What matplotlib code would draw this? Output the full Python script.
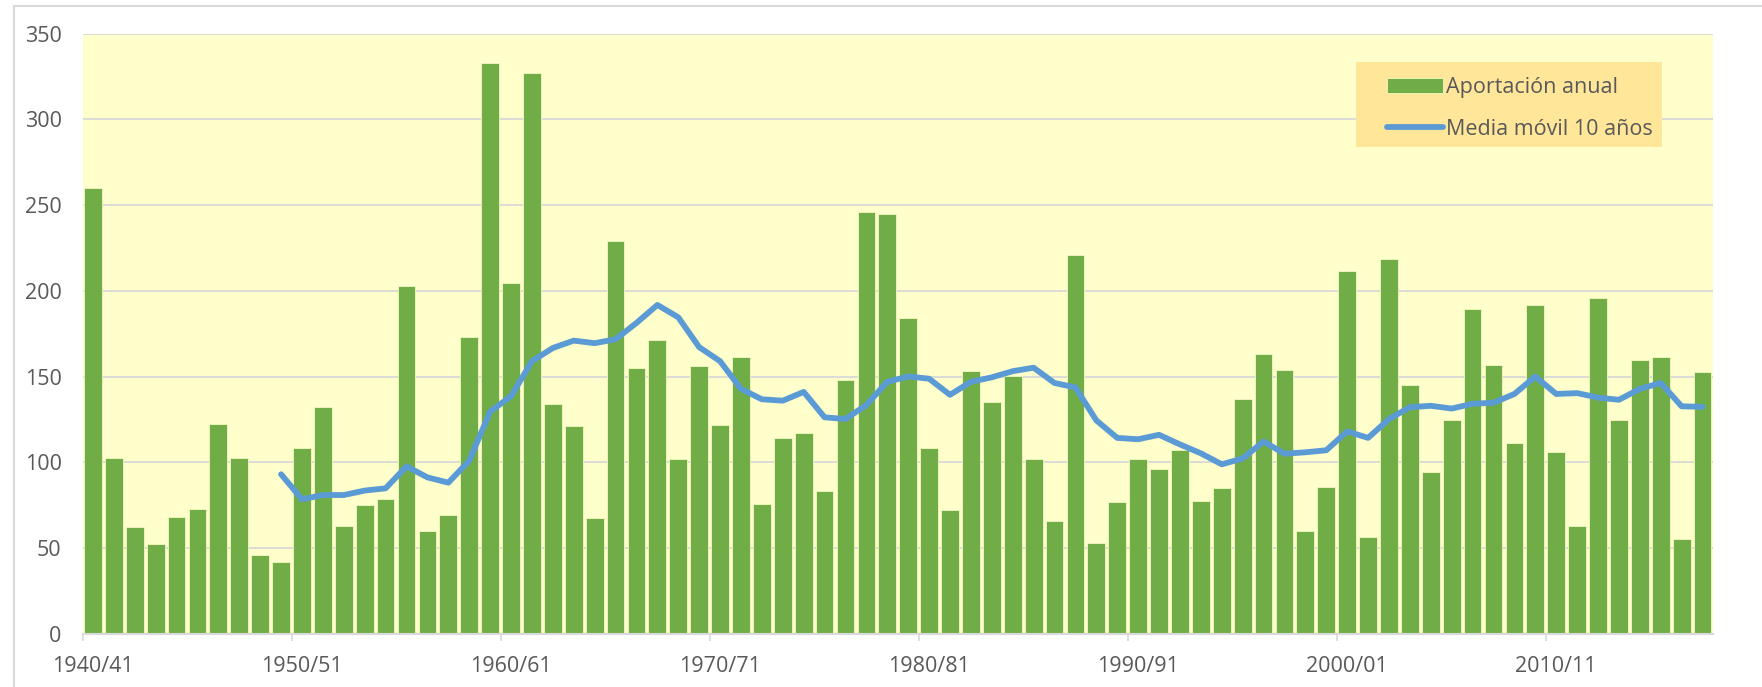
import matplotlib
import matplotlib.pyplot as plt
from matplotlib.lines import Line2D
from matplotlib.patches import Rectangle
import numpy as np

matplotlib.use("Agg")

# Aportación anual (hm³) por año hidrológico, 1940/41 - 2017/18
first_year = 1940
aportacion = [
    260.0, 102.3, 62.4, 52.7, 68.0, 72.6, 122.5, 102.8, 46.0, 41.9,
    108.7, 132.2, 62.9, 74.9, 78.5, 202.7, 60.3, 69.5, 173.1, 332.9,
    204.8, 326.8, 134.2, 121.2, 67.5, 229.1, 155.2, 171.1, 102.0, 156.0,
    122.0, 161.6, 75.9, 114.3, 116.9, 83.6, 148.3, 246.2, 245.0, 184.1,
    108.7, 72.4, 153.4, 135.3, 150.3, 102.0, 65.7, 220.9, 53.2, 77.0,
    101.8, 96.4, 107.4, 77.7, 84.9, 136.8, 163.4, 153.9, 60.1, 85.4,
    211.5, 56.5, 218.6, 145.2, 94.6, 124.8, 189.5, 156.5, 111.5, 192.0,
    105.9, 63.2, 196.1, 124.5, 159.6, 161.6, 55.2, 152.9,
]

# Media móvil de 10 años, empieza en el décimo año (1949/50)
media_start = 9
media_movil = [
    93.1, 78.5, 81.0, 81.0, 83.6, 84.9, 97.7, 91.3, 88.2, 101.0,
    129.6, 138.6, 159.0, 166.7, 171.0, 169.5, 171.8, 181.3, 191.8, 184.6,
    167.2, 159.0, 142.9, 136.8, 136.0, 141.1, 126.3, 125.3, 133.5, 147.0,
    150.1, 148.8, 139.4, 147.0, 149.6, 153.2, 155.2, 146.3, 143.7, 124.5,
    114.3, 113.5, 116.1, 110.5, 105.3, 98.9, 102.3, 112.2, 105.1, 105.9,
    107.1, 118.1, 114.3, 125.3, 132.2, 133.0, 131.4, 134.2, 134.8, 139.9,
    150.1, 139.9, 140.4, 137.8, 136.5, 142.9, 146.3, 132.7, 132.4,
]

etiquetas = [f"{y}/{(y + 1) % 100:02d}" for y in range(first_year, first_year + len(aportacion))]

GREEN = "#70AD47"
BLUE = "#5B9BD5"
PLOT_BG = "#FFFFCC"
LEGEND_BG = "#FFE699"
GRID = "#D9D9D9"
TEXT = "#595959"

plt.rcParams["font.family"] = ["Open Sans", "DejaVu Sans"]

W, H = 1762, 687
fig = plt.figure(figsize=(W / 100, H / 100), dpi=100)
fig.patch.set_facecolor("white")

left, right, top, bottom = 82.5, 1713, 33.5, 634
ax = fig.add_axes([left / W, 1 - bottom / H, (right - left) / W, (bottom - top) / H])
ax.set_facecolor(PLOT_BG)

x = np.arange(len(aportacion))
bars = ax.bar(x, aportacion, width=0.85, color=GREEN, edgecolor="#F4F8C0", linewidth=0.6,
              label="Aportación anual", zorder=3)
xm = np.arange(media_start, media_start + len(media_movil))
line, = ax.plot(xm, media_movil, color=BLUE, linewidth=4.2, solid_capstyle="round",
                solid_joinstyle="round", label="Media móvil 10 años", zorder=4)

ax.set_xlim(-0.5, len(aportacion) - 0.5)
ax.set_ylim(0, 350)
ax.set_yticks(np.arange(0, 351, 50))
ax.yaxis.grid(True, color=GRID, linewidth=1.3, zorder=1)
ax.set_axisbelow(True)

# etiquetas cada 10 años centradas en la barra, marcas entre categorías
ax.set_xticks(x[::10])
ax.set_xticklabels(etiquetas[::10])
ax.set_xticks(np.arange(-0.5, len(aportacion), 10), minor=True)
ax.tick_params(axis="x", which="major", length=0, pad=16, labelsize=15.5, labelcolor=TEXT)
ax.tick_params(axis="x", which="minor", length=5, width=1.2, color=GRID)
ax.tick_params(axis="y", length=0, pad=15, labelsize=15.5, labelcolor=TEXT)

for side in ("top", "right", "left"):
    ax.spines[side].set_visible(False)
ax.spines["bottom"].set_color(GRID)
ax.spines["bottom"].set_linewidth(1.5)
ax.spines["bottom"].set_zorder(5)

# recuadro de la leyenda
ax.add_patch(Rectangle((1356 / W, 1 - 147 / H), (1662 - 1356) / W, (147 - 62) / H,
                       transform=fig.transFigure, facecolor=LEGEND_BG,
                       edgecolor="none", zorder=5, clip_on=False))
leg = ax.legend(handles=[bars, line], loc="upper left",
                bbox_to_anchor=(1372 / W, 1 - 62 / H),
                bbox_transform=fig.transFigure, frameon=False, fontsize=15.5,
                handlelength=2.6, handletextpad=0.15, labelspacing=0.95,
                borderpad=0.2)
for t in leg.get_texts():
    t.set_color(TEXT)
leg.set_zorder(6)

# marco exterior del gráfico
fig.add_artist(Line2D([14 / W, 1], [1 - 6 / H, 1 - 6 / H], color=GRID, linewidth=1.5))
fig.add_artist(Line2D([14 / W, 14 / W], [0, 1 - 6 / H], color=GRID, linewidth=1.5))

fig.savefig("out.png", dpi=100)
plt.close(fig)
